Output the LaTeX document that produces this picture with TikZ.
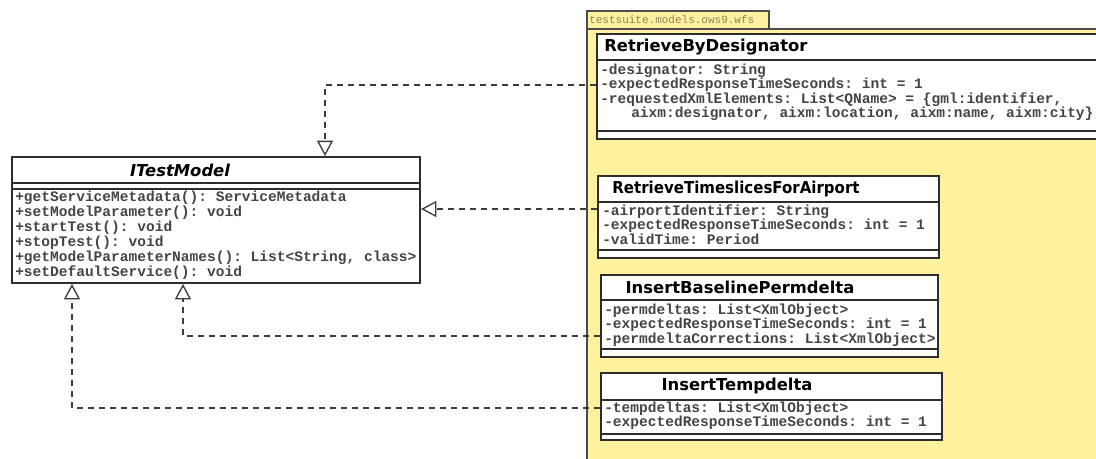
\documentclass[tikz,border=0pt]{standalone}
\usepackage{fontspec}
\usepackage{graphicx}
\usetikzlibrary{arrows.meta,fit,calc}
\newfontfamily\umlsans{DejaVu Sans}
\newfontfamily\umlmono{Liberation Mono}
\definecolor{pkgfill}{RGB}{255,242,158}
\definecolor{umlline}{RGB}{45,45,45}
\definecolor{umltext}{RGB}{68,68,68}
\definecolor{tabtext}{RGB}{140,130,90}
\definecolor{deplink}{RGB}{60,60,60}
\begin{document}
\begin{tikzpicture}[x=0.75pt,y=-0.75pt,
  pkgbox/.style={draw=umlline!85, line width=1.4pt, fill=pkgfill, inner sep=0pt},
  classbox/.style={draw=umlline, line width=1.5pt, fill=white, inner sep=0pt},
  sep/.style={draw=umlline, line width=1.5pt},
  cname/.style={font=\umlsans\bfseries\fontsize{12.3}{14}\selectfont, inner sep=0pt, text=black},
  member/.style={font=\umlmono\bfseries\frenchspacing\fontsize{10.9}{12}\selectfont, inner sep=0pt, anchor=west,
                 text=umltext, text height=1.5ex, text depth=0.3ex},
  tablabel/.style={font=\umlmono\frenchspacing\fontsize{8.25}{10}\selectfont, inner sep=0pt, anchor=west, text=tabtext},
  realize/.style={draw=deplink, line width=1pt, dash pattern=on 4.5pt off 3.75pt,
                  -{Triangle[open, length=11.5pt, width=12pt, line width=1pt]}}
]
\useasboundingbox (0,0) rectangle (1096,458);
\begin{scope}
\clip (0,0) rectangle (1096,458);

% package testsuite.models.ows9.wfs
\node[pkgbox, fit={(587,11) (769,29)}] (tab) {};
\node[pkgbox, fit={(587,29) (1120,480)}] (pkg) {};
\node[tablabel] (tabname) at (589,20) {testsuite.models.ows9.wfs};

% interface ITestModel
\node[classbox, fit={(12,157) (420,283)}] (itm) {};
\draw[sep] (itm.west |- 0,183) -- (itm.east |- 0,183);
\draw[sep] (itm.west |- 0,189) -- (itm.east |- 0,189);
\node[cname, font=\umlsans\bfseries\itshape\fontsize{12.3}{14}\selectfont] (itmname) at (180,170) {ITestModel};
\node[member] (itm1) at (15,198) {+getServiceMetadata(): ServiceMetadata};
\node[member] (itm2) at (15,213) {+setModelParameter(): void};
\node[member] (itm3) at (15,228) {+startTest(): void};
\node[member] (itm4) at (15,243) {+stopTest(): void};
\node[member] (itm5) at (15,258) {+getModelParameterNames(): List<String, class>};
\node[member] (itm6) at (15,273) {+setDefaultService(): void};

% class RetrieveByDesignator
\node[classbox, fit={(597,34) (1110,139)}] (rbd) {};
\draw[sep] (rbd.west |- 0,60) -- (rbd.east |- 0,60);
\draw[sep] (rbd.west |- 0,131) -- (rbd.east |- 0,131);
\node[cname, anchor=west] (rbdname) at (604,47) {RetrieveByDesignator};
\node[member] (rbd1) at (600,71) {-designator: String};
\node[member] (rbd2) at (600,85.5) {-expectedResponseTimeSeconds: int = 1};
\node[member] (rbd3) at (600,100) {-requestedXmlElements: List<QName> = \{gml:identifier,};
\node[member] (rbd4) at (631,114.5) {aixm:designator, aixm:location, aixm:name, aixm:city\}};

% class RetrieveTimeslicesForAirport
\node[classbox, fit={(598,176) (939,258)}] (rtf) {};
\draw[sep] (rtf.west |- 0,202) -- (rtf.east |- 0,202);
\draw[sep] (rtf.west |- 0,250) -- (rtf.east |- 0,250);
\node[cname] (rtfname) at (736,189) {\scalebox{0.915}[1]{RetrieveTimeslicesForAirport}};
\node[member] (rtf1) at (602,212) {-airportIdentifier: String};
\node[member] (rtf2) at (602,226.5) {-expectedResponseTimeSeconds: int = 1};
\node[member] (rtf3) at (602,241) {-validTime: Period};

% class InsertBaselinePermdelta
\node[classbox, fit={(601,275) (938,357)}] (ibp) {};
\draw[sep] (ibp.west |- 0,300) -- (ibp.east |- 0,300);
\draw[sep] (ibp.west |- 0,349) -- (ibp.east |- 0,349);
\node[cname] (ibpname) at (740,287) {InsertBaselinePermdelta};
\node[member] (ibp1) at (604,311) {-permdeltas: List<XmlObject>};
\node[member] (ibp2) at (604,325.5) {-expectedResponseTimeSeconds: int = 1};
\node[member] (ibp3) at (604,340) {-permdeltaCorrections: List<XmlObject>};

% class InsertTempdelta
\node[classbox, fit={(601,373) (942,440)}] (itd) {};
\draw[sep] (itd.west |- 0,400) -- (itd.east |- 0,400);
\draw[sep] (itd.west |- 0,434) -- (itd.east |- 0,434);
\node[cname] (itdname) at (737,386) {InsertTempdelta};
\node[member] (itd1) at (604,409) {-tempdeltas: List<XmlObject>};
\node[member] (itd2) at (604,423.5) {-expectedResponseTimeSeconds: int = 1};

% realizations of ITestModel
\draw[realize] (rbd.west |- 0,85) -| ($(itm.north)+(109,0)$);
\draw[realize] (rtf.west |- 0,209) -- (itm.east |- 0,209);
\draw[realize] (ibp.west |- 0,336) -| ($(itm.south)+(-33,0)$);
\draw[realize] (itd.west |- 0,408) -| ($(itm.south)+(-144,0)$);
\end{scope}
\end{tikzpicture}
\end{document}
